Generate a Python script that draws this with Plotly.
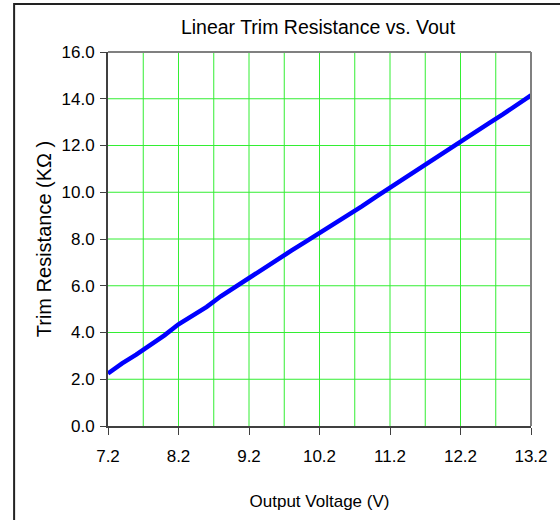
import plotly.graph_objects as go

vout = [7.2, 7.4, 7.6, 7.8, 8.0, 8.2, 8.4, 8.6, 8.8, 9.0, 9.2, 9.4, 9.6, 9.8, 10.0,
        10.2, 10.4, 10.6, 10.8, 11.0, 11.2, 11.4, 11.6, 11.8, 12.0, 12.2, 12.4,
        12.6, 12.8, 13.0, 13.2]
rtrim = [2.25, 2.68, 3.05, 3.45, 3.88, 4.35, 4.70, 5.10, 5.55, 5.95, 6.33, 6.72,
         7.13, 7.50, 7.88, 8.25, 8.63, 9.03, 9.40, 9.80, 10.20, 10.58, 10.98,
         11.38, 11.78, 12.17, 12.55, 12.95, 13.33, 13.72, 14.15]
x_ticks = [7.2, 8.2, 9.2, 10.2, 11.2, 12.2, 13.2]
x_grid = [7.7, 8.2, 8.7, 9.2, 9.7, 10.2, 10.7, 11.2, 11.7, 12.2, 12.7]
y_ticks = [0, 2, 4, 6, 8, 10, 12, 14, 16]

W, H = 560, 520
L, R, T, B = 108, 24, 52, 94
pw, ph = W - L - R, H - T - B

def px(xp):
    return (xp - L) / pw

def py(yp):
    return (H - B - yp) / ph

fig = go.Figure()
fig.add_trace(go.Scatter(x=vout, y=rtrim, mode="lines",
                         line=dict(color="#0000FF", width=4.5), showlegend=False,
                         hoverinfo="skip"))

shapes = []
for g in x_grid:
    shapes.append(dict(type="line", xref="x", yref="y", x0=g, x1=g, y0=0, y1=16,
                       line=dict(color="#33EE33", width=1), layer="below"))
for g in y_ticks[1:-1]:
    shapes.append(dict(type="line", xref="x", yref="y", x0=7.2, x1=13.2, y0=g, y1=g,
                       line=dict(color="#33EE33", width=1), layer="below"))
shapes.append(dict(type="line", xref="paper", yref="paper", x0=0, x1=1, y0=1, y1=1,
                   line=dict(color="#808080", width=2)))
shapes.append(dict(type="line", xref="paper", yref="paper", x0=1, x1=1, y0=0, y1=1,
                   line=dict(color="#808080", width=2)))
shapes.append(dict(type="rect", xref="paper", yref="paper",
                   x0=px(13), x1=px(620), y0=py(4), y1=py(580),
                   line=dict(color="#222222", width=2), layer="below"))
fig.update_layout(shapes=shapes)

font = "Arial, Liberation Sans, sans-serif"
fig.update_layout(
    width=W, height=H,
    margin=dict(l=L, r=R, t=T, b=B),
    paper_bgcolor="white", plot_bgcolor="white",
    font=dict(family=font, color="#000000", size=17),
    title=dict(text="Linear Trim Resistance vs. Vout", x=318 / W, xanchor="center",
               y=1 - 27 / H, yanchor="middle", font=dict(size=19.5)),
    xaxis=dict(range=[7.2, 13.2], tickvals=x_ticks, ticktext=[f"{v:.1f}" for v in x_ticks],
               showgrid=False, zeroline=False, showline=True, linecolor="#404040",
               linewidth=2, ticks="outside", ticklen=7, tickcolor="#404040",
               tickfont=dict(size=17), ticklabelstandoff=7,
               title=dict(text="Output Voltage (V)", font=dict(size=17), standoff=30)),
    yaxis=dict(range=[0, 16], tickvals=y_ticks, ticktext=[f"{v:.1f}" for v in y_ticks],
               showgrid=False, zeroline=False, showline=True, linecolor="#404040",
               linewidth=2, ticks="outside", ticklen=6, tickcolor="#404040",
               tickfont=dict(size=17), ticklabelstandoff=2,
               title=dict(text="Trim Resistance (KΩ )", font=dict(size=20), standoff=5)),
)

fig.write_html("out.html", config={"displayModeBar": False},
               post_script="document.body.style.margin='0px';")
